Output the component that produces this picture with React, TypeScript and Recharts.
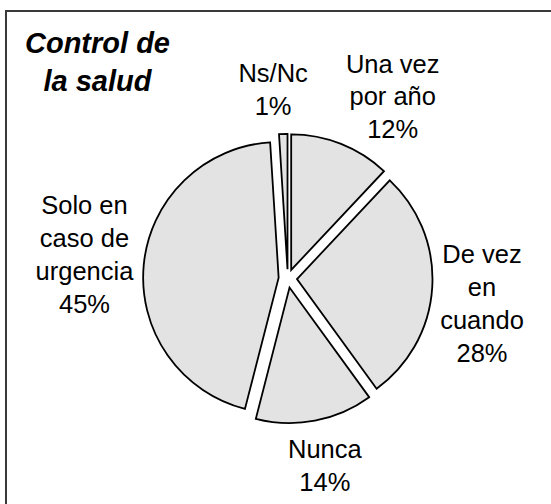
import { PieChart, Pie } from 'recharts';

// Control de la salud — exploded pie, slices clockwise from 12 o'clock
const categories = ['Una vez por año', 'De vez en cuando', 'Nunca', 'Solo en caso de urgencia', 'Ns/Nc'];
const labelLines = [['Una vez', 'por año'], ['De vez', 'en', 'cuando'], ['Nunca'], ['Solo en', 'caso de', 'urgencia'], ['Ns/Nc']];
const shares = [12, 28, 14, 45, 1];
const titleLines = ['Control de', 'la salud'];

// layout
const CX = 287.8;
const CY = 278.5;
const RADIUS = 135.5;
const EXPLODE = 9.2;
const LABEL_GAP = 11;
const LINE_H = 32.8;
const FONT_SIZE = 25.5;
const CAP_H = FONT_SIZE * 0.716;
const FONT = '"Liberation Sans", Arial, sans-serif';
// Excel nudged a few labels away from each other
const LABEL_NUDGE: [number, number][] = [[31, 4.5], [-3, 12.4], [3, 8.3], [0.6, -4.7], [-9, -7.6]];

const RAD = Math.PI / 180;

let ctx: CanvasRenderingContext2D | null = null;
function textWidth(s: string): number {
  if (!ctx) ctx = document.createElement('canvas').getContext('2d');
  if (!ctx) return s.length * FONT_SIZE * 0.55;
  ctx.font = `${FONT_SIZE}px ${FONT}`;
  return ctx.measureText(s).width;
}

const total = shares.reduce((a, b) => a + b, 0);

function makeLabel(i: number) {
  return (props: any) => {
    const { cx, cy, midAngle, outerRadius } = props;
    const lines = [...labelLines[i], `${shares[i]}%`];
    const w = Math.max(...lines.map(textWidth));
    const h = (lines.length - 1) * LINE_H + CAP_H;
    const ux = Math.cos(-midAngle * RAD);
    const uy = Math.sin(-midAngle * RAD);
    const t = Math.min(
      Math.abs(ux) > 1e-6 ? w / 2 / Math.abs(ux) : Infinity,
      Math.abs(uy) > 1e-6 ? h / 2 / Math.abs(uy) : Infinity,
    );
    const dist = outerRadius + LABEL_GAP + t;
    const x = cx + ux * dist + LABEL_NUDGE[i][0];
    const yc = cy + uy * dist + LABEL_NUDGE[i][1];
    const y0 = yc - h / 2 + CAP_H;
    return (
      <text key={`lbl-${i}`} x={x} y={y0} textAnchor="middle" fontSize={FONT_SIZE} fontFamily={FONT} fill="#000">
        {lines.map((l, k) => (
          <tspan key={k} x={x} y={y0 + k * LINE_H}>{l}</tspan>
        ))}
      </text>
    );
  };
}

export default function App() {
  let acc = 0;
  const slices = shares.map((v, i) => {
    const a0 = (acc / total) * 360;
    acc += v;
    const a1 = (acc / total) * 360;
    const mid = (a0 + a1) / 2;
    return {
      i,
      start: 90 - a0,
      end: 90 - a1,
      cx: CX + EXPLODE * Math.sin(mid * RAD),
      cy: CY - EXPLODE * Math.cos(mid * RAD),
    };
  });

  return (
    <div style={{ position: 'absolute', left: 0, top: 0, width: 551, height: 504, overflow: 'hidden', background: '#fff' }}>
      <div
        style={{
          position: 'absolute',
          left: 5,
          top: 10,
          width: 700,
          height: 700,
          borderLeft: '2px solid #3a3a3a',
          borderTop: '2px solid #3a3a3a',
        }}
      />
      <div style={{ position: 'absolute', left: 0, top: 0 }}>
        <PieChart width={551} height={504} margin={{ top: 0, right: 0, bottom: 0, left: 0 }}>
          {slices.map(s => (
            <Pie
              key={categories[s.i]}
              data={[{ name: categories[s.i], value: shares[s.i] }]}
              dataKey="value"
              nameKey="name"
              cx={s.cx}
              cy={s.cy}
              startAngle={s.start}
              endAngle={s.end}
              innerRadius={0}
              outerRadius={RADIUS}
              fill="#e3e3e3"
              stroke="#000"
              strokeWidth={1.8}
              label={makeLabel(s.i)}
              labelLine={false}
              isAnimationActive={false}
            />
          ))}
        </PieChart>
      </div>
      <svg width={551} height={504} style={{ position: 'absolute', left: 0, top: 0, pointerEvents: 'none' }}>
        <text x={97.5} y={52.7} textAnchor="middle" fontSize={29} fontWeight="bold" fontStyle="italic" fontFamily={FONT} fill="#000">
          {titleLines.map((l, k) => (
            <tspan key={k} x={97.5} y={52.7 + k * 38}>{l}</tspan>
          ))}
        </text>
      </svg>
    </div>
  );
}
